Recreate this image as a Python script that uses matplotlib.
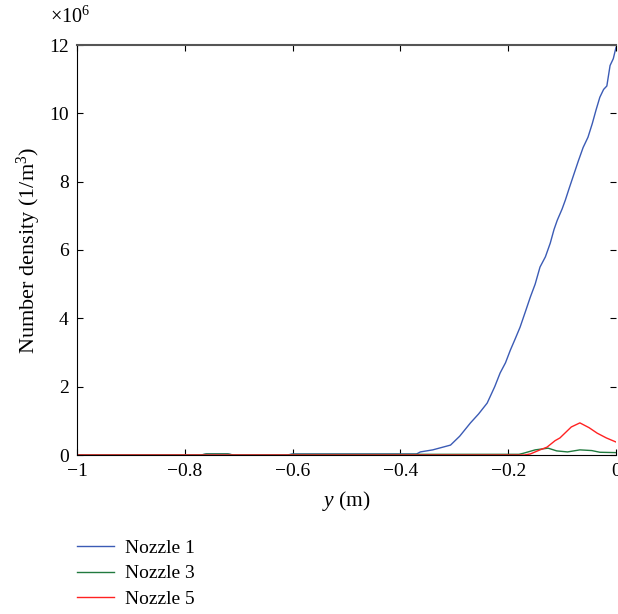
import numpy as np
import matplotlib
matplotlib.use("Agg")
import matplotlib.pyplot as plt

plt.rcParams['font.family'] = ['Liberation Serif', 'DejaVu Serif']
plt.rcParams['mathtext.fontset'] = 'custom'
plt.rcParams['mathtext.rm'] = 'Liberation Serif'
plt.rcParams['mathtext.it'] = 'Liberation Serif:italic'

# number density values in units of 1e6 (1/m^3)
blue_x = [-1, -0.77, -0.76, -0.72, -0.71, -0.61, -0.60, -0.37, -0.363, -0.34, -0.307,
          -0.29, -0.27, -0.255, -0.239, -0.225, -0.215, -0.205, -0.196, -0.187, -0.178,
          -0.168, -0.159, -0.15, -0.141, -0.131, -0.122, -0.115, -0.109, -0.1, -0.094,
          -0.087, -0.080, -0.07, -0.061, -0.052, -0.044, -0.037, -0.030, -0.023, -0.017,
          -0.011, -0.005, 0]
blue_y = [0, 0, 0.03, 0.03, 0, 0, 0.03, 0.03, 0.09, 0.15, 0.29,
          0.55, 0.94, 1.2, 1.52, 2.0, 2.4, 2.7, 3.07, 3.4, 3.74,
          4.2, 4.62, 5.0, 5.5, 5.8, 6.2, 6.6, 6.87, 7.2, 7.46,
          7.8, 8.13, 8.6, 9.0, 9.3, 9.7, 10.1, 10.47, 10.7, 10.8,
          11.4, 11.6, 11.93]

green_x = [-1, -0.77, -0.76, -0.72, -0.71, -0.61, -0.60, -0.18, -0.172, -0.15, -0.126,
           -0.11, -0.09, -0.067, -0.045, -0.03, 0]
green_y = [0, 0, 0.03, 0.03, 0, 0, 0.02, 0.02, 0.05, 0.15, 0.2,
           0.12, 0.09, 0.15, 0.13, 0.08, 0.07]

red_x = [-1, -0.17, -0.159, -0.141, -0.128, -0.113, -0.104, -0.083, -0.067, -0.05,
         -0.035, -0.018, 0]
red_y = [0, 0, 0.03, 0.15, 0.23, 0.42, 0.5, 0.82, 0.94, 0.8,
         0.64, 0.5, 0.38]

xticks = [-1, -0.8, -0.6, -0.4, -0.2, 0]
xticklabels = ['\u22121', '\u22120.8', '\u22120.6', '\u22120.4', '\u22120.2', '0']
yticks = [0, 2, 4, 6, 8, 10, 12]

fig = plt.figure(figsize=(6.18, 6.14), dpi=100)
ax = fig.add_axes([77 / 618, 1 - 455 / 614, (616 - 77) / 618, (455 - 45) / 614])

ax.plot(blue_x, blue_y, color='#3b5bb5', lw=1.0, label='Nozzle 1')
ax.plot(green_x, green_y, color='#217a3f', lw=1.0, label='Nozzle 3')
ax.plot(red_x, red_y, color='#ff2222', lw=1.0, label='Nozzle 5')

ax.set_xlim(-1, 0)
ax.set_ylim(0, 12)
ax.set_xticks(xticks)
ax.set_xticklabels(xticklabels)
ax.set_yticks(yticks)
ax.tick_params(direction='in', length=4, width=0.8, labelsize=14,
               top=True, right=True, pad=6)
ax.spines['right'].set_visible(False)
ax.spines['top'].set_color('#555555')
ax.spines['top'].set_linewidth(1.5)

ax.set_xlabel('$y$ (m)', fontsize=15.5, labelpad=6)
ax.set_ylabel('Number density (1/m$^3$)', fontsize=16, labelpad=4)
fig.text(50 / 618, 1 - 17 / 614, '\u00d710$^6$', fontsize=14.5, va='center', ha='left')

ax.legend(loc='upper left', bbox_to_anchor=(77 / 618, 1 - 539 / 614),
          bbox_transform=fig.transFigure, frameon=False, fontsize=14,
          handlelength=1.9, handletextpad=0.55, labelspacing=0.42,
          borderaxespad=0, borderpad=0)

fig.savefig('out.png', dpi=100)
